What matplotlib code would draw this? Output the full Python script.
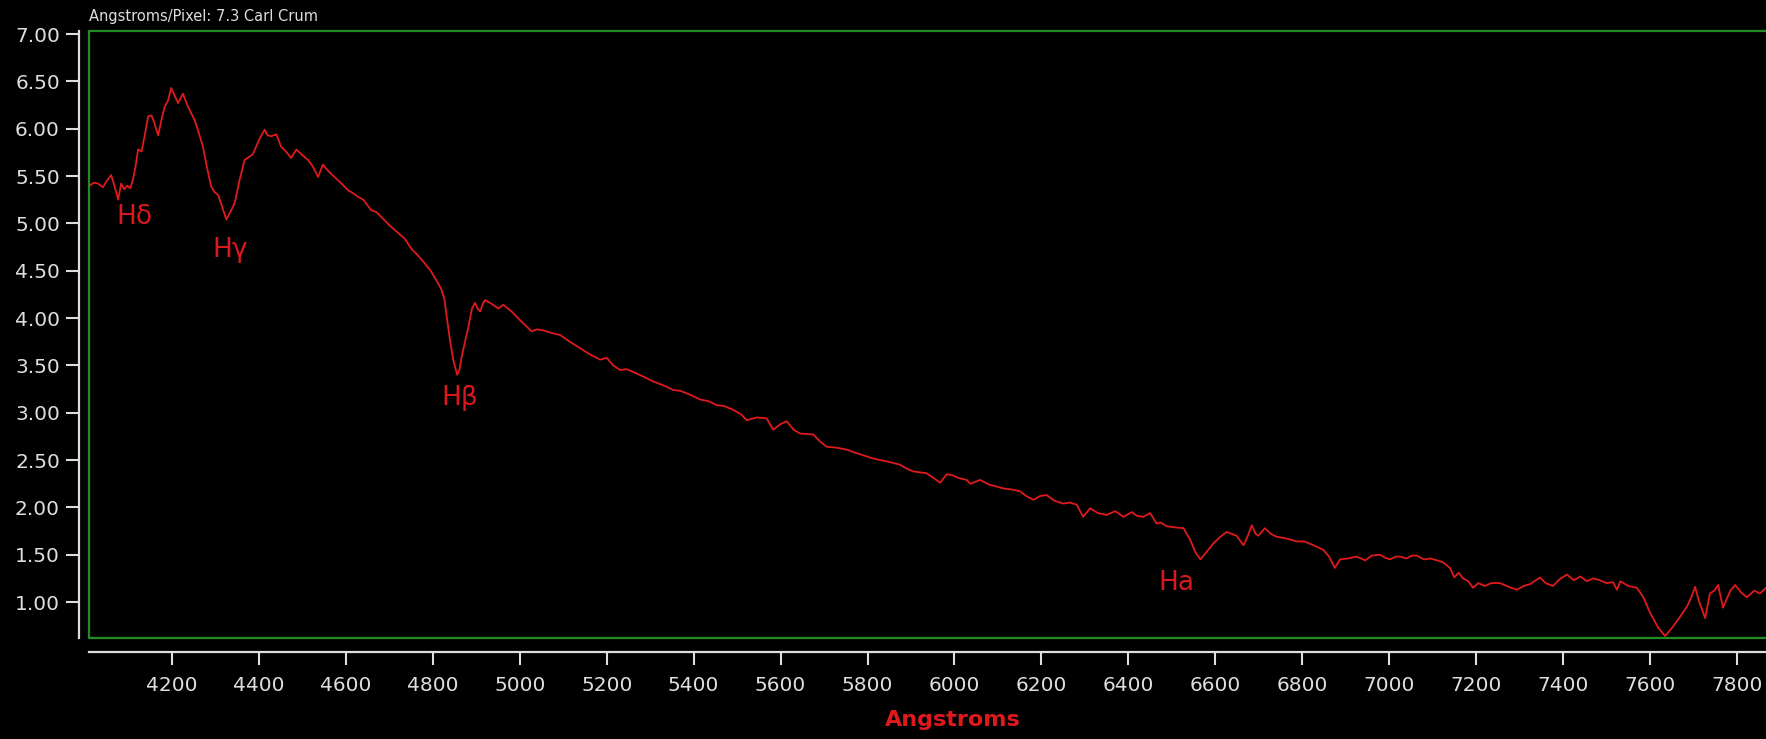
import matplotlib
matplotlib.use('Agg')
import matplotlib.pyplot as plt

# spectrum (Angstroms, relative flux)
wavelength = [4011, 4020, 4030, 4041, 4050, 4060, 4068, 4076, 4083, 4090, 4097, 4104,
              4110, 4116, 4122, 4130, 4138, 4145, 4153, 4160, 4168, 4176, 4183, 4191,
              4198, 4206, 4214, 4225, 4237, 4252, 4262, 4271, 4280, 4290, 4298, 4306,
              4315, 4325, 4334, 4344, 4355, 4367, 4377, 4386, 4400, 4413, 4420, 4428,
              4440, 4451, 4462, 4474, 4486, 4500, 4513, 4524, 4536, 4547, 4560, 4574,
              4590, 4605, 4616, 4628, 4640, 4658, 4670, 4681, 4700, 4720, 4735, 4751,
              4766, 4781, 4795, 4808, 4820, 4827, 4832, 4840, 4847, 4856, 4861, 4866,
              4874, 4882, 4890, 4897, 4903, 4909, 4915, 4920, 4935, 4951, 4962, 4981,
              5000, 5016, 5027, 5040, 5054, 5075, 5093, 5115, 5139, 5160, 5185, 5200,
              5215, 5231, 5245, 5261, 5285, 5307, 5330, 5353, 5370, 5392, 5415, 5435,
              5453, 5470, 5491, 5510, 5522, 5545, 5568, 5583, 5600, 5614, 5630, 5645,
              5675, 5690, 5706, 5730, 5752, 5770, 5790, 5810, 5829, 5850, 5875, 5890,
              5905, 5936, 5952, 5967, 5982, 5995, 6010, 6028, 6036, 6043, 6059, 6080,
              6105, 6113, 6130, 6151, 6165, 6182, 6197, 6212, 6230, 6250, 6265, 6281,
              6296, 6312, 6330, 6350, 6370, 6389, 6408, 6420, 6435, 6450, 6465, 6475,
              6488, 6505, 6527, 6542, 6555, 6566, 6580, 6596, 6612, 6626, 6638, 6649,
              6665, 6675, 6684, 6693, 6699, 6714, 6728, 6741, 6765, 6787, 6805, 6826,
              6849, 6862, 6875, 6887, 6905, 6925, 6945, 6960, 6979, 6990, 7002, 7015,
              7025, 7040, 7052, 7064, 7080, 7095, 7110, 7124, 7140, 7150, 7160, 7170,
              7182, 7193, 7205, 7220, 7235, 7255, 7275, 7294, 7310, 7325, 7347, 7360,
              7377, 7392, 7409, 7425, 7440, 7455, 7470, 7485, 7500, 7515, 7524, 7532,
              7550, 7570, 7585, 7600, 7619, 7635, 7653, 7670, 7685, 7695, 7704, 7712,
              7727, 7738, 7748, 7757, 7768, 7785, 7796, 7810, 7823, 7840, 7853, 7867]
flux = [5.40, 5.43, 5.42, 5.38, 5.45, 5.51, 5.39, 5.25, 5.42, 5.36, 5.40, 5.37,
        5.46, 5.60, 5.78, 5.76, 5.95, 6.13, 6.14, 6.05, 5.93, 6.10, 6.23, 6.30,
        6.43, 6.35, 6.27, 6.37, 6.23, 6.09, 5.95, 5.81, 5.60, 5.39, 5.33, 5.30,
        5.18, 5.04, 5.12, 5.21, 5.45, 5.67, 5.70, 5.73, 5.88, 5.99, 5.93, 5.92,
        5.94, 5.81, 5.76, 5.69, 5.78, 5.72, 5.67, 5.60, 5.49, 5.62, 5.55, 5.49,
        5.42, 5.35, 5.32, 5.28, 5.25, 5.14, 5.12, 5.07, 4.98, 4.90, 4.84, 4.73,
        4.66, 4.58, 4.50, 4.40, 4.30, 4.19, 4.01, 3.75, 3.56, 3.40, 3.45, 3.58,
        3.75, 3.91, 4.10, 4.16, 4.10, 4.07, 4.15, 4.19, 4.15, 4.10, 4.14, 4.07,
        3.98, 3.91, 3.86, 3.88, 3.87, 3.84, 3.82, 3.75, 3.68, 3.62, 3.56, 3.58,
        3.50, 3.45, 3.46, 3.43, 3.38, 3.33, 3.29, 3.24, 3.23, 3.19, 3.14, 3.12,
        3.08, 3.07, 3.03, 2.98, 2.92, 2.95, 2.94, 2.82, 2.88, 2.91, 2.82, 2.78,
        2.77, 2.70, 2.64, 2.63, 2.61, 2.58, 2.55, 2.52, 2.50, 2.48, 2.45, 2.41,
        2.38, 2.36, 2.31, 2.26, 2.35, 2.34, 2.31, 2.29, 2.25, 2.26, 2.29, 2.24,
        2.21, 2.20, 2.19, 2.17, 2.12, 2.08, 2.12, 2.13, 2.07, 2.04, 2.05, 2.03,
        1.90, 1.99, 1.94, 1.92, 1.96, 1.90, 1.95, 1.91, 1.90, 1.94, 1.83, 1.84,
        1.80, 1.79, 1.78, 1.66, 1.52, 1.45, 1.53, 1.62, 1.69, 1.74, 1.72, 1.70,
        1.60, 1.70, 1.81, 1.72, 1.70, 1.78, 1.72, 1.69, 1.67, 1.64, 1.64, 1.60,
        1.55, 1.48, 1.36, 1.45, 1.46, 1.48, 1.44, 1.49, 1.50, 1.47, 1.45, 1.48,
        1.48, 1.46, 1.49, 1.49, 1.45, 1.46, 1.44, 1.42, 1.36, 1.26, 1.31, 1.25,
        1.22, 1.15, 1.20, 1.17, 1.20, 1.20, 1.16, 1.13, 1.17, 1.19, 1.26, 1.20,
        1.17, 1.24, 1.29, 1.23, 1.27, 1.22, 1.25, 1.23, 1.20, 1.21, 1.13, 1.22,
        1.17, 1.15, 1.05, 0.89, 0.73, 0.64, 0.74, 0.85, 0.95, 1.05, 1.16, 1.02,
        0.83, 1.09, 1.12, 1.18, 0.94, 1.12, 1.18, 1.10, 1.05, 1.12, 1.09, 1.15]

line_names = ['H\u03b4', 'H\u03b3', 'H\u03b2', 'Ha']
line_x = [4114, 4333, 4863, 6511]
line_y = [5.07, 4.72, 3.15, 1.20]

x_ticks = [4200, 4400, 4600, 4800, 5000, 5200, 5400, 5600, 5800, 6000,
           6200, 6400, 6600, 6800, 7000, 7200, 7400, 7600, 7800]
y_ticks = [1.0, 1.5, 2.0, 2.5, 3.0, 3.5, 4.0, 4.5, 5.0, 5.5, 6.0, 6.5, 7.0]

red = '#e01a1c'
txt = '#dedede'

fig = plt.figure(figsize=(17.66, 7.39), dpi=100, facecolor='black')
ax = fig.add_axes([89 / 1766, 101 / 739, 1 - 89 / 1766, 607 / 739])
ax.set_facecolor('black')

ax.plot(wavelength, flux, color=red, lw=1.3)

for name, lx, ly in zip(line_names, line_x, line_y):
    ax.text(lx, ly, name, color='#d8181c', fontsize=19, ha='center', va='center')

ax.set_xlim(4009, 7867)
ax.set_ylim(0.62, 7.032)
ax.set_xticks(x_ticks)
ax.set_yticks(y_ticks)
ax.set_yticklabels(['%.2f' % v for v in y_ticks])

# white axis lines sit outside the green plot frame
for side in ['top', 'right']:
    ax.spines[side].set_visible(False)
ax.spines['left'].set_position(('outward', 7.2))
ax.spines['bottom'].set_position(('outward', 10))
for side in ['left', 'bottom']:
    ax.spines[side].set_color(txt)
    ax.spines[side].set_linewidth(1.6)

ax.plot([1, 0, 0, 1], [1, 1, 0, 0], transform=ax.transAxes, color='#228b22',
        lw=1.6, clip_on=False)

ax.tick_params(axis='both', colors=txt, width=1.5, length=9.4, labelsize=14.5)
ax.tick_params(axis='y', pad=4.3)
ax.tick_params(axis='x', pad=8)

ax.set_xlabel('Angstroms', color=red, fontsize=16, fontweight='bold')
ax.xaxis.set_label_coords(0.515, -0.118)

ax.text(0, 1.012, 'Angstroms/Pixel: 7.3 Carl Crum', transform=ax.transAxes,
        color=txt, fontsize=10.5, ha='left', va='bottom')

fig.savefig('out.png', dpi=100, facecolor='black')
